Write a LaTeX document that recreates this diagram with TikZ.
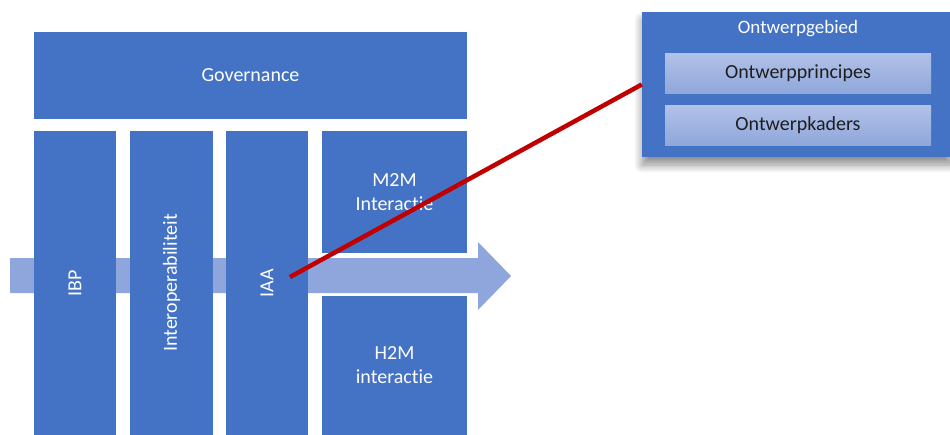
\documentclass[tikz,border=0pt]{standalone}
\usepackage{fontspec}
\setmainfont{Carlito}[Ligatures=NoCommon]
\usetikzlibrary{shadows.blur}
\definecolor{mainblue}{HTML}{4472C4}
\definecolor{arrowblue}{HTML}{8EA6DB}
\definecolor{innertop}{HTML}{B2C2E8}
\definecolor{innerbot}{HTML}{8FA7DA}
\definecolor{darkred}{HTML}{C00000}
\definecolor{darktext}{HTML}{1E1E1E}
\begin{document}
\begin{tikzpicture}[x=1pt,y=-1pt,
  block/.style={fill=mainblue, draw=none, text=white, font=\fontsize{20}{24}\selectfont, inner sep=0pt, align=center},
  vlabel/.style={text=white, font=\fontsize{20}{24}\selectfont, rotate=90},
  innerbox/.style={top color=innertop, bottom color=innerbot, draw=none, text=darktext, font=\fontsize{20}{24}\selectfont, inner sep=0pt},
  redline/.style={draw=darkred, line width=4.5pt}
]
\useasboundingbox (0,0) rectangle (950,434);
% flow arrow (behind the columns)
\fill[arrowblue] (10,258) -- (478,258) -- (478,242) -- (511,276) -- (478,310) -- (478,293) -- (10,293) -- cycle;
% governance
\node[block, minimum width=433pt, minimum height=87pt] (gov) at (250.5,75.5) {Governance};
% columns
\node[block, minimum width=82pt, minimum height=304pt] (ibp) at (75,283) {};
\node[vlabel] (ibpt) at (ibp.center) {IBP};
\node[block, minimum width=83pt, minimum height=304pt] (interop) at (171.5,283) {};
\node[vlabel] (interopt) at (interop.center) {Interoperabiliteit};
\node[block, minimum width=82pt, minimum height=304pt] (iaa) at (267,283) {};
\node[vlabel] (iaat) at (iaa.center) {IAA};
\node[block, minimum width=145pt, minimum height=122pt] (m2m) at (394.5,192) {M2M\\Interactie};
\node[block, minimum width=145pt, minimum height=139pt] (h2m) at (394.5,365.5) {H2M\\interactie};
% design area
\node[block, blur shadow={shadow xshift=0pt, shadow yshift=-8pt, shadow blur steps=12, shadow opacity=45, shadow blur radius=8pt}, minimum width=310pt, minimum height=145pt] (gebied) at (797,84.5) {};
\node[text=white, font=\fontsize{19}{23}\selectfont] (gebiedt) at (798,29) {Ontwerpgebied};
\node[innerbox, minimum width=266pt, minimum height=40pt] (principes) at (798,73) {Ontwerpprincipes};
\node[innerbox, minimum width=266pt, minimum height=40pt] (kaders) at (798,125) {Ontwerpkaders};
% red connector
\coordinate (iaapt) at (290,277);
\draw[redline] (iaapt) -- (gebied.west);
\end{tikzpicture}
\end{document}
